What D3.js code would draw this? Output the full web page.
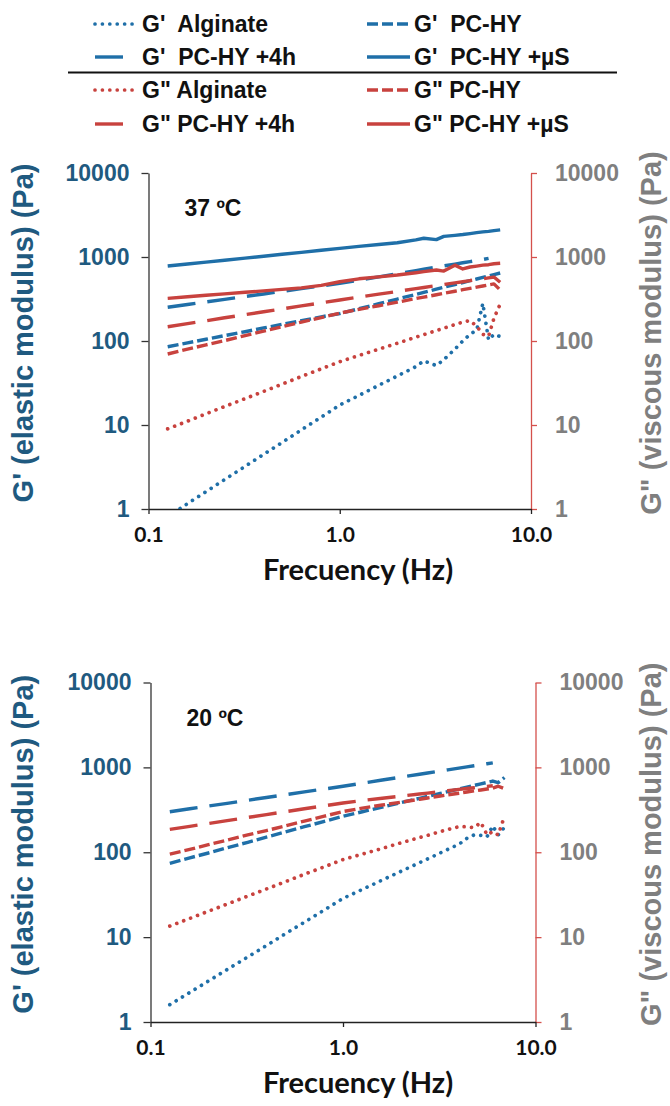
<!DOCTYPE html>
<html lang="en">
<head>
<meta charset="utf-8">
<title>G' and G'' frequency sweeps</title>
<script src="https://cdn.jsdelivr.net/npm/d3@7"></script>
<style>
	body { margin: 0; background: #fff; }
	svg text { font-family: "Liberation Sans", Arial, sans-serif; font-weight: bold; }
	.xaxis text, .xtitle { font-family: Lato, "Open Sans", sans-serif; }
	.temp { font-family: "Liberation Sans Narrow", "Liberation Sans", Arial, sans-serif; }
</style>
</head>
<body>
<script>

var w = 670;
var h = 1106;
var blue = "#1f6fa8";
var red = "#c8423e";

// Frequencies (Hz) of the sweep
var freq = [0.126, 0.16, 0.2, 0.25, 0.32, 0.4, 0.5, 0.63, 0.8, 1.0, 1.26, 1.6, 2.0, 2.5, 2.75, 3.2, 3.5, 4.0, 4.4, 4.8, 5.2, 5.6, 6.0, 6.4, 6.9];

var yTicks = [1, 10, 100, 1000, 10000];
var xTicks = [0.1, 1, 10];
var xTickLabels = ["0.1", "1.0", "10.0"];

// 37 ºC  (Pa)
var gpAlg37   = [0.81, 1.16, 1.61, 2.24, 3.22, 4.48, 6.2, 8.75, 12.4, 17.3, 22.5, 29.7, 38.3, 49.5, 58, 51, 60, 80, 100, 120, 135, 280, 103, 120, 113];
var gpPc37    = [85.5, 95, 105, 116, 129, 143, 158, 174, 194, 212, 242, 278, 316, 359, 379, 414, 436, 470, 497, 523, 547, 571, 594, 616, 645];
var gpPc4h37  = [252, 272, 292, 313, 339, 363, 390, 420, 453, 486, 531, 581, 633, 688, 714, 756, 783, 823, 853, 882, 909, 935, 965, null, null];
var gpPcus37  = [780, 825, 869, 916, 970, 1022, 1077, 1136, 1202, 1268, 1340, 1410, 1480, 1600, 1670, 1610, 1760, 1810, 1850, 1900, 1950, 1990, 2020, 2060, 2100];
var gppAlg37  = [9.0, 11.1, 13.6, 16.6, 20.6, 25.1, 30.7, 37.8, 46.6, 56.7, 67.2, 80, 94, 111, 119, 133, 142, 157, 168, 175, 150, 120, 114, 186, 276];
var gppPc37   = [70, 80, 90, 101, 116, 131, 148, 168, 190, 215, 238, 263, 290, 320, 333, 355, 369, 391, 408, 423, 438, 452, 466, 479, 405];
var gppPc4h37 = [148, 161, 174, 189, 206, 223, 241, 262, 284, 308, 333, 361, 389, 420, 434, 456, 470, 492, 508, 524, 538, 551, 564, 577, 500];
var gppPcus37 = [322, 336, 350, 364, 380, 395, 412, 429, 460, 508, 550, 580, 610, 650, 670, 700, 680, 800, 720, 760, 780, 800, 810, 830, 841];

// 20 ºC  (Pa)
var gpAlg20   = [1.6, 2.23, 3.04, 4.15, 5.84, 7.95, 10.9, 15, 20.9, 28.6, 36.5, 47, 59.6, 75.5, 83.5, 98, 108, 124, 146, 160, 158, 152, 204, 160, 197];
var gpPc20    = [74, 86, 98, 113, 131, 151, 173, 200, 231, 265, 300, 341, 384, 432, 455, 493, 517, 555, 585, 613, 639, 665, 690, 660, 760];
var gpPc4h20  = [300, 325, 350, 377, 410, 441, 476, 514, 556, 600, 651, 709, 767, 830, 859, 906, 935, 980, 1014, 1046, 1075, 1103, 1131, null, null];
var gppAlg20  = [13.5, 16.6, 20.2, 24.5, 30.4, 36.9, 44.8, 55.1, 67.4, 82, 95, 111, 129, 149, 158, 175, 185, 200, 200, 195, 225, 160, 175, 160, 265];
var gppPc20   = [95, 108, 123, 139, 160, 180, 204, 233, 266, 302, 331, 360, 389, 421, 436, 460, 475, 496, 512, 528, 542, 556, 569, 600, 560];
var gppPc4h20 = [186, 202, 218, 236, 257, 278, 300, 325, 353, 380, 408, 433, 458, 485, 497, 517, 530, 550, 563, 576, 588, 598, 608, null, null];

// line styles
var styles = {
	dot:   { dash: "0.01,7.4", cap: "round", width: 3.7 },
	short: { dash: "11,4", cap: "butt", width: 3.4 },
	long:  { dash: "28,12", cap: "butt", width: 3.4 },
	solid: { dash: null, cap: "butt", width: 3.4 }
};

var legendItems = [
	{ label: "G'  Alginate",      color: blue, style: "dot",   col: 0, row: 0 },
	{ label: "G'  PC-HY",         color: blue, style: "short", col: 1, row: 0 },
	{ label: "G'  PC-HY +4h",     color: blue, style: "long",  col: 0, row: 1 },
	{ label: "G'  PC-HY +\u00b5S", color: blue, style: "solid", col: 1, row: 1 },
	{ label: "G\" Alginate",      color: red,  style: "dot",   col: 0, row: 2 },
	{ label: "G\" PC-HY",         color: red,  style: "short", col: 1, row: 2 },
	{ label: "G\" PC-HY +4h",     color: red,  style: "long",  col: 0, row: 3 },
	{ label: "G\" PC-HY +\u00b5S", color: red,  style: "solid", col: 1, row: 3 }
];

var panels = [
	{ temp: "37 \u00baC", x0: 148.5, x1: 531, y0: 173, y1: 509,
	  series: [
		{ v: gpAlg37, color: blue, style: "dot" },
		{ v: gpPc37, color: blue, style: "short" },
		{ v: gpPc4h37, color: blue, style: "long" },
		{ v: gpPcus37, color: blue, style: "solid" },
		{ v: gppAlg37, color: red, style: "dot" },
		{ v: gppPc37, color: red, style: "short" },
		{ v: gppPc4h37, color: red, style: "long" },
		{ v: gppPcus37, color: red, style: "solid" }
	  ] },
	{ temp: "20 \u00baC", x0: 150.5, x1: 535.5, y0: 682.5, y1: 1022,
	  series: [
		{ v: gpAlg20, color: blue, style: "dot" },
		{ v: gpPc20, color: blue, style: "short" },
		{ v: gpPc4h20, color: blue, style: "long" },
		{ v: gppAlg20, color: red, style: "dot" },
		{ v: gppPc20, color: red, style: "short" },
		{ v: gppPc4h20, color: red, style: "long" }
	  ] }
];

var svg = d3.select("body")
			.append("svg")
			.attr("width", w)
			.attr("height", h);

// ---------- legend ----------
var legX = [95, 367];
var legY = [24, 57, 90, 124];
var leg = svg.append("g").attr("class", "legend");

legendItems.forEach(function(d) {
	var x = legX[d.col], y = legY[d.row];
	var st = styles[d.style];
	// the long-dash sample only shows its first dash, as in the original
	var len = d.style == "long" ? 29 : 43;
	leg.append("line")
		.attr("x1", x).attr("x2", x + len)
		.attr("y1", y).attr("y2", y)
		.attr("stroke", d.color)
		.attr("stroke-width", st.width)
		.attr("stroke-dasharray", st.dash)
		.attr("stroke-linecap", st.cap);
	leg.append("text")
		.attr("x", x + 47)
		.attr("y", y + 8)
		.style("font-size", "23px")
		.style("white-space", "pre")
		.attr("fill", "#111")
		.text(d.label);
});

leg.append("line")
	.attr("x1", 68).attr("x2", 617)
	.attr("y1", 72.5).attr("y2", 72.5)
	.attr("stroke", "#111")
	.attr("stroke-width", 2);

// ---------- panels ----------
panels.forEach(function(p, pi) {

	var xScale = d3.scaleLog().domain([0.1, 10]).range([p.x0, p.x1]);
	var yScale = d3.scaleLog().domain([1, 10000]).range([p.y1, p.y0]);

	var g = svg.append("g");

	// clip area
	g.append("clipPath")
		.attr("id", "clip" + pi)
		.append("rect")
		.attr("x", p.x0).attr("y", p.y0 - 2)
		.attr("width", p.x1 - p.x0).attr("height", p.y1 - p.y0 + 2);

	// left axis
	var yAxisL = d3.axisLeft(yScale).tickValues(yTicks).tickFormat(d3.format("d"))
					.tickSize(7).tickSizeOuter(0).tickPadding(12);
	var gl = g.append("g")
		.attr("class", "yaxisL")
		.attr("transform", "translate(" + p.x0 + ",0)")
		.call(yAxisL);
	gl.select(".domain").attr("stroke", "#333").attr("stroke-width", 1.3);
	gl.selectAll("line").attr("stroke", "#333").attr("stroke-width", 1.3);
	gl.selectAll("text").attr("fill", "#1f5a80").style("font-size", "23px").style("font-family", "Liberation Sans, Arial, sans-serif");

	// right axis
	var yAxisR = d3.axisRight(yScale).tickValues(yTicks).tickFormat(d3.format("d"))
					.tickSize(6).tickSizeOuter(0).tickPadding(18);
	var gr = g.append("g")
		.attr("class", "yaxisR")
		.attr("transform", "translate(" + p.x1 + ",0)")
		.call(yAxisR);
	gr.select(".domain").attr("stroke", "#d4504c").attr("stroke-width", 1.3);
	gr.selectAll("line").attr("stroke", "#d4504c").attr("stroke-width", 1.3);
	gr.selectAll("text").attr("fill", "#7f7f7f").style("font-size", "23px").style("font-family", "Liberation Sans, Arial, sans-serif");

	// bottom axis
	var xAxis = d3.axisBottom(xScale).tickValues(xTicks)
					.tickFormat(function(d, i) { return xTickLabels[i]; })
					.tickSize(5).tickSizeOuter(0).tickPadding(13);
	var gx = g.append("g")
		.attr("class", "xaxis")
		.attr("transform", "translate(0," + p.y1 + ")")
		.call(xAxis);
	gx.select(".domain").attr("stroke", "#222").attr("stroke-width", 1.3);
	gx.selectAll("line").attr("stroke", "#222").attr("stroke-width", 1.3);
	gx.selectAll("text").attr("fill", "#111").style("font-size", "21px");

	// axis titles
	var midY = (p.y0 + p.y1) / 2;
	g.append("text")
		.attr("transform", "translate(33," + (midY - 8) + ") rotate(-90)")
		.attr("text-anchor", "middle")
		.attr("fill", "#1f5a80")
		.style("font-size", "29px")
		.text("G' (elastic modulus) (Pa)");
	g.append("text")
		.attr("transform", "translate(661," + (midY - 8) + ") rotate(-90)")
		.attr("text-anchor", "middle")
		.attr("fill", "#7f7f7f")
		.style("font-size", "29px")
		.text("G\" (viscous modulus) (Pa)");
	g.append("text")
		.attr("class", "xtitle")
		.attr("x", 358)
		.attr("y", p.y1 + 71)
		.attr("text-anchor", "middle")
		.attr("fill", "#111")
		.style("font-size", "29px")
		.text("Frecuency (Hz)");

	// temperature label
	g.append("text")
		.attr("class", "temp")
		.attr("x", p.x0 + 36)
		.attr("y", p.y0 + 43)
		.attr("fill", "#111")
		.style("font-size", "23px")
		.text(p.temp);

	// data lines
	var line = d3.line()
		.defined(function(d) { return d[1] != null; })
		.x(function(d) { return xScale(d[0]); })
		.y(function(d) { return yScale(d[1]); });

	g.append("g")
		.attr("clip-path", "url(#clip" + pi + ")")
		.selectAll("path")
		.data(p.series)
		.enter()
		.append("path")
		.attr("d", function(s) {
			return line(freq.map(function(f, i) { return [f, s.v[i]]; }));
		})
		.attr("fill", "none")
		.attr("stroke", function(s) { return s.color; })
		.attr("stroke-width", function(s) { return styles[s.style].width; })
		.attr("stroke-linejoin", "round")
		.attr("stroke-dasharray", function(s) { return styles[s.style].dash; })
		.attr("stroke-linecap", function(s) { return styles[s.style].cap; });
});

</script>
</body>
</html>
